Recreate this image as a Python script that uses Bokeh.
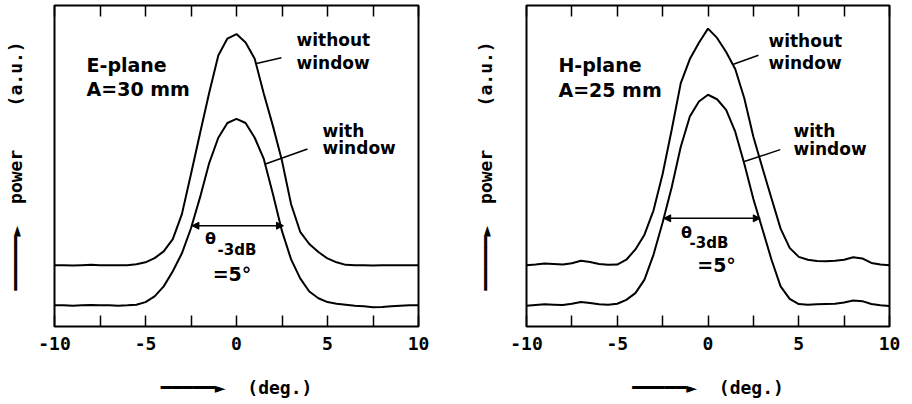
import math
from bokeh.plotting import figure
from bokeh.models import Range1d, FixedTicker, LinearAxis, Label, Arrow, NormalHead
from bokeh.layouts import row
from bokeh.embed import file_html
from bokeh.resources import INLINE

# angle (deg.)
DEG = [-10.0, -9.5, -9.0, -8.5, -8.0, -7.5, -7.0, -6.5, -6.0, -5.5, -5.0,
       -4.5, -4.0, -3.5, -3.0, -2.5, -2.0, -1.5, -1.0, -0.5, 0.0,
       0.5, 1.0, 1.5, 2.0, 2.5, 3.0, 3.5, 4.0, 4.5, 5.0,
       5.5, 6.0, 6.5, 7.0, 7.5, 8.0, 8.5, 9.0, 9.5, 10.0]

# E-plane, A = 30 mm (power, a.u.)
E_WITHOUT = [19.1, 19.1, 19.0, 19.1, 19.2, 19.1, 19.1, 19.1, 19.1, 19.4, 20.0,
             21.3, 23.4, 27.2, 35.0, 47.5, 60.3, 72.8, 84.4, 89.7, 91.1,
             88.5, 83.4, 72.5, 62.5, 51.6, 38.1, 29.5, 25.7, 23.2, 21.2,
             20.0, 19.2, 19.1, 19.1, 19.0, 19.1, 19.1, 19.1, 19.1, 19.1]
E_WITH = [6.6, 6.6, 6.5, 6.6, 6.7, 6.6, 6.6, 6.5, 6.6, 6.8, 7.6,
          9.4, 12.5, 17.2, 22.8, 30.6, 40.3, 50.9, 58.8, 63.4, 64.7,
          63.4, 58.8, 52.2, 41.3, 29.7, 20.9, 15.0, 10.9, 8.8, 7.6,
          7.1, 6.8, 6.5, 6.3, 6.0, 6.1, 6.3, 6.5, 6.6, 6.6]

# H-plane, A = 25 mm (power, a.u.)
H_WITHOUT = [19.1, 19.3, 19.6, 19.5, 19.3, 19.7, 20.5, 20.1, 19.5, 19.2, 19.3,
             20.8, 24.0, 28.6, 36.2, 47.5, 61.3, 75.8, 83.3, 88.4, 92.8,
             89.9, 85.5, 80.2, 71.1, 59.1, 49.4, 39.9, 30.5, 24.5, 21.7,
             20.8, 20.4, 20.3, 20.5, 20.8, 21.6, 21.2, 19.8, 19.3, 19.1]
H_WITH = [6.5, 6.7, 6.9, 6.8, 6.7, 7.1, 7.6, 7.3, 6.9, 6.8, 7.1,
          8.3, 10.4, 14.6, 22.4, 32.4, 43.4, 56.0, 65.4, 70.1, 72.2,
          70.8, 67.5, 60.7, 50.7, 39.7, 30.3, 20.8, 12.5, 8.6, 7.0,
          6.8, 6.9, 7.0, 7.1, 7.5, 8.1, 7.9, 7.0, 6.6, 6.4]

MAJOR_TICKS = [-10, -5, 0, 5, 10]
MINOR_TICKS = [-7.5, -2.5, 2.5, 7.5]
TICK_LABELS = ["-10", "-5", "0", "5", "10"]

NB = "\u00a0"
X_LABEL = "━━━━━►" + NB * 2 + "(deg.)"
Y_LABEL = "━━━━━►" + NB * 2 + "power" + NB * 4 + "(a.u.)"

FONT = "DejaVu Sans"
MONO = "DejaVu Sans Mono"


def style_axis(ax, with_labels):
    ax.ticker = FixedTicker(ticks=MAJOR_TICKS, minor_ticks=MINOR_TICKS)
    ax.axis_line_color = None
    ax.major_tick_in = 11
    ax.major_tick_out = 0
    ax.minor_tick_in = 11
    ax.minor_tick_out = 0
    ax.major_tick_line_width = 1.5
    ax.minor_tick_line_width = 1.5
    ax.major_tick_line_color = "black"
    ax.minor_tick_line_color = "black"
    if with_labels:
        ax.major_label_overrides = dict(zip(MAJOR_TICKS, TICK_LABELS))
        ax.major_label_text_font = MONO
        ax.major_label_text_font_style = "bold"
        ax.major_label_text_font_size = "18px"
        ax.major_label_text_color = "black"
        ax.major_label_standoff = 10
        ax.axis_label = X_LABEL
        ax.axis_label_text_font = MONO
        ax.axis_label_text_font_style = "bold"
        ax.axis_label_text_font_size = "18px"
        ax.axis_label_text_color = "black"
        ax.axis_label_standoff = 24
    else:
        ax.major_label_overrides = {t: "" for t in MAJOR_TICKS}
        ax.major_label_text_font_size = "0px"
        ax.major_label_standoff = 0


def txt(p, x, y, s, size, align="left"):
    p.add_layout(Label(x=x, y=y, text=s, text_font=FONT, text_font_style="bold",
                       text_font_size=size, text_color="black", text_align=align,
                       text_baseline="middle"))


def line_ann(p, x0, y0, x1, y1, start=False, end=False, width=1.5, head=7):
    p.add_layout(Arrow(
        start=NormalHead(size=head, fill_color="black", line_color="black", line_width=1) if start else None,
        end=NormalHead(size=head, fill_color="black", line_color="black", line_width=1) if end else None,
        x_start=x0, y_start=y0, x_end=x1, y_end=y1,
        line_color="black", line_width=width))


def make_panel(without, with_w, a):
    p = figure(width=456, height=400, x_range=Range1d(-10, 10), y_range=Range1d(0, 100),
               output_backend="svg", toolbar_location=None,
               min_border_left=a["bl"], min_border_right=a["br"],
               min_border_top=5, min_border_bottom=70)
    p.background_fill_color = "white"
    p.border_fill_color = "white"
    p.grid.visible = False
    p.outline_line_color = "black"
    p.outline_line_width = 2
    style_axis(p.below[0], True)

    yax = p.left[0]
    yax.ticker = FixedTicker(ticks=[])
    yax.axis_line_color = None
    yax.major_tick_line_color = None
    yax.minor_tick_line_color = None
    yax.major_label_standoff = 0
    yax.axis_label = Y_LABEL
    yax.axis_label_text_font = MONO
    yax.axis_label_text_font_style = "bold"
    yax.axis_label_text_font_size = "18px"
    yax.axis_label_text_color = "black"
    yax.axis_label_standoff = a["ys"]

    top = LinearAxis()
    style_axis(top, False)
    p.add_layout(top, "above")

    p.line(DEG, without, line_color="black", line_width=2)
    p.line(DEG, with_w, line_color="black", line_width=2)

    # panel text
    txt(p, -8.24, a["t1y"], a["plane"], "19px")
    txt(p, -8.24, a["t2y"], a["size"], "19px")
    txt(p, a["wox"], a["woy1"], "without", "17px")
    txt(p, a["wox"], a["woy2"], "window", "17px")
    txt(p, a["wx"], a["wy1"], "with", "17px")
    txt(p, a["wx"], a["wy2"], "window", "17px")
    line_ann(p, *a["lead_wo"])
    line_ann(p, *a["lead_w"])

    # -3 dB width
    line_ann(p, a["bw"][0], a["bw"][2], a["bw"][1], a["bw"][2], start=True, end=True, width=1.5, head=7)
    txt(p, a["th"][0], a["th"][1], "θ", "16px", align="center")
    txt(p, a["sub"][0], a["sub"][1], "-3dB", "15px", align="left")
    txt(p, a["eq"][0], a["eq"][1], "=5°", "19px", align="center")
    return p


left = make_panel(E_WITHOUT, E_WITH, dict(
    bl=54, br=38, ys=29, plane="E-plane", size="A=30 mm", t1y=81.4, t2y=73.9,
    wox=3.30, woy1=89.1, woy2=82.2, wx=4.73, wy1=60.9, wy2=55.5,
    lead_wo=(1.10, 81.9, 2.47, 83.75), lead_w=(1.59, 50.6, 3.90, 55.3),
    bw=(-2.45, 2.58, 31.4), th=(-1.43, 27.5), sub=(-1.04, 23.75), eq=(-0.25, 16.4)))

right = make_panel(H_WITHOUT, H_WITH, dict(
    bl=70, br=23, ys=31, plane="H-plane", size="A=25 mm", t1y=81.6, t2y=73.7,
    wox=3.33, woy1=89.0, woy2=82.2, wx=4.71, wy1=60.8, wy2=55.2,
    lead_wo=(1.40, 81.7, 2.78, 84.5), lead_w=(1.96, 51.3, 3.98, 55.1),
    bw=(-2.44, 2.88, 33.7), th=(-1.18, 29.2), sub=(-1.02, 26.1), eq=(0.47, 19.2)))

layout = row(left, right)
open("out.html", "w").write(file_html(layout, INLINE))
